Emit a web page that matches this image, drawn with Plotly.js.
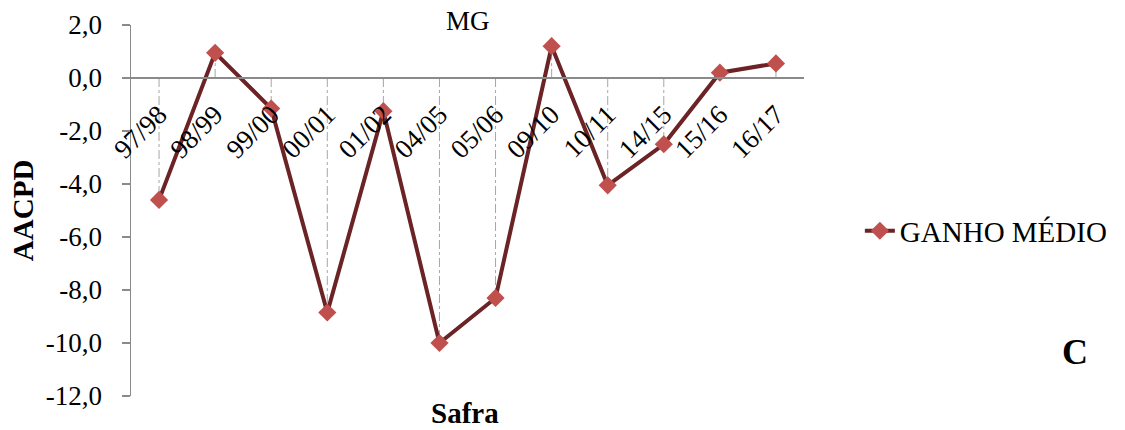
<!DOCTYPE html>
<html>
<head>
<meta charset="utf-8">
<script src="https://cdn.plot.ly/plotly-3.0.1.min.js"></script>
<style>html,body{margin:0;padding:0;background:#fff;}#chart{width:1125px;height:430px;}</style>
</head>
<body>
<div id="chart"></div>
<script>
const categories = ["97/98","98/99","99/00","00/01","01/02","04/05","05/06","09/10","10/11","14/15","15/16","16/17"];
const ganhoMedio = [-4.6, 0.95, -1.15, -8.85, -1.25, -10.0, -8.3, 1.2, -4.05, -2.5, 0.2, 0.55];
const seriesName = "GANHO MÉDIO";
const chartTitle = "MG";
const xTitle = "Safra";
const yTitle = "AACPD";
const panelLabel = "C";
const yTicks = [2, 0, -2, -4, -6, -8, -10, -12];
const yTickText = yTicks.map(v => v.toFixed(1).replace(".", ","));

const yMin = -12, yMax = 2;
const font = "Liberation Serif";

// drop lines from each point to the category axis
const dropX = [], dropY = [];
categories.forEach((c, i) => { dropX.push(c, c, null); dropY.push(0, ganhoMedio[i], null); });

const traces = [
  {x: dropX, y: dropY, type: "scatter", mode: "lines", showlegend: false, hoverinfo: "skip",
   line: {color: "#a6a6a6", width: 1, dash: "dashdot"}},
  {x: categories, y: ganhoMedio, type: "scatter", mode: "lines+markers", name: seriesName,
   line: {color: "#6b2326", width: 4},
   marker: {symbol: "diamond", size: 14, color: "#c0504d", line: {width: 0}}}
];

const layout = {
  width: 1125, height: 430,
  margin: {l: 131, r: 319, t: 25, b: 34},
  paper_bgcolor: "#ffffff", plot_bgcolor: "#ffffff",
  font: {family: font, color: "#000000", size: 24},
  showlegend: true,
  legend: {x: 1.083, y: 0.445, xanchor: "left", yanchor: "middle", font: {family: font, size: 29, color: "#000"},
           bgcolor: "rgba(0,0,0,0)", itemwidth: 30},
  xaxis: {
    type: "category", categoryorder: "array", categoryarray: categories,
    range: [-0.5, categories.length - 0.5],
    anchor: "free", position: (0 - yMin) / (yMax - yMin),
    showline: true, linecolor: "#8a8a8a", linewidth: 2,
    showgrid: false, zeroline: false, ticks: "",
    tickangle: -45, tickfont: {family: font, size: 27, color: "#000"},
    ticklabelstandoff: 9,
    automargin: false, fixedrange: true
  },
  yaxis: {
    range: [yMin, yMax], tickvals: yTicks, ticktext: yTickText,
    showline: true, linecolor: "#8a8a8a", linewidth: 1.5,
    ticks: "outside", ticklen: 8, tickcolor: "#8a8a8a", tickwidth: 1.5,
    ticklabelstandoff: 14,
    showgrid: false, zeroline: false,
    tickfont: {family: font, size: 27, color: "#000"},
    automargin: false, fixedrange: true
  },
  annotations: [
    {text: chartTitle, xref: "paper", yref: "paper", x: 0.50, y: 1.01, xanchor: "center", yanchor: "middle",
     showarrow: false, font: {family: font, size: 27, color: "#000"}},
    {text: "<b>" + xTitle + "</b>", xref: "paper", yref: "paper", x: 0.496, y: -0.046, xanchor: "center", yanchor: "middle",
     showarrow: false, font: {family: font, size: 29, color: "#000"}},
    {text: "<b>" + yTitle + "</b>", xref: "paper", yref: "paper", x: -0.161, y: 0.50, xanchor: "center", yanchor: "middle",
     textangle: -90, showarrow: false, font: {family: font, size: 29, color: "#000"}},
    {text: "<b>" + panelLabel + "</b>", xref: "paper", yref: "paper", x: 1.402, y: 0.119, xanchor: "center", yanchor: "middle",
     showarrow: false, font: {family: font, size: 36, color: "#000"}}
  ]
};

Plotly.newPlot("chart", traces, layout, {displayModeBar: false, staticPlot: true});
</script>
</body>
</html>
